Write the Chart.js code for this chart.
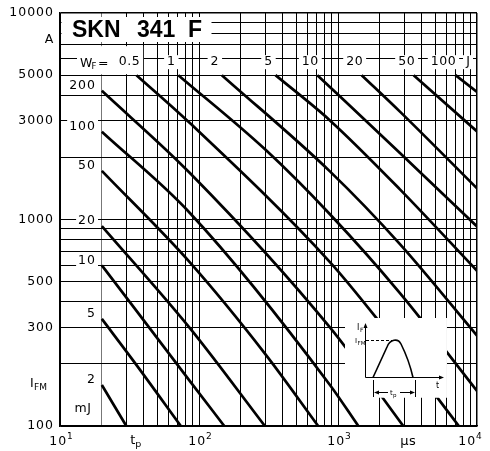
<!DOCTYPE html>
<html>
<head>
<meta charset="utf-8">
<script src="https://cdn.jsdelivr.net/npm/chart.js@4"></script>
<style>
  html, body { margin: 0; padding: 0; background: #fff; }
</style>
</head>
<body>
<canvas id="myChart" width="490" height="451"></canvas>
<script>
// axis ranges and grid positions
const tMin = 10, tMax = 10000;
const iMin = 100, iMax = 10000;
const gridT = [10, 20, 30, 40, 50, 60, 70, 80, 90, 100, 200, 300, 400, 500, 600, 700, 800, 900,
  1000, 2000, 3000, 4000, 5000, 6000, 7000, 8000, 9000, 10000];
const gridI = [100, 200, 300, 400, 500, 600, 700, 800, 900, 1000, 2000, 3000, 4000, 5000,
  6000, 7000, 8000, 9000, 10000];
const yTickLabels = [10000, 5000, 3000, 1000, 500, 300, 100];
const xTickLabels = [10, 100, 1000, 10000];
const xTickExp = ['1', '2', '3', '4'];

// W_F curves, [tp (µs), I_FM (A)]
const w2mJ = [[20, 158], [30, 100]];
const w5mJ = [[20, 330], [35, 200], [74, 100]];
const w10mJ = [[20, 600], [86, 165], [152, 100]];
const w20mJ = [[20, 930], [86, 298], [298, 100]];
const w50mJ = [[20, 1720], [86, 620], [300, 223], [720, 100]];
const w100mJ = [[20, 2660], [86, 1075], [875, 158], [1400, 100]];
const w200mJ = [[20, 4200], [86, 1680], [875, 300], [2950, 100]];
const w05J = [[35.5, 5000], [86, 2930], [875, 622], [1940, 326], [5150, 138], [7400, 100]];
const w1J = [[71, 5000], [300, 2180], [875, 1060], [2790, 440], [10000, 148]];
const w2J = [[146, 5000], [875, 1710], [2790, 760], [10000, 274]];
const w5J = [[355, 5000], [875, 3020], [2790, 1400], [10000, 565]];
const w10J = [[710, 5000], [2790, 2100], [10000, 925]];
const w20J = [[1480, 5000], [2790, 3330], [10000, 1416]];
const w50J = [[3500, 5000], [10000, 2670]];
const w100J = [[7000, 5000], [10000, 4150]];

const mJLines = [w2mJ, w5mJ, w10mJ, w20mJ, w50mJ, w100mJ, w200mJ];
const mJLabels = ['2', '5', '10', '20', '50', '100', '200'];
const jLines = [w05J, w1J, w2J, w5J, w10J, w20J, w50J, w100J];
const jLabels = ['0.5', '1', '2', '5', '10', '20', '50', '100'];

const FONT = '"DejaVu Sans", "Liberation Sans", sans-serif';
const TITLE_FONT = '"Liberation Sans", Arial, sans-serif';

function put(c, s, x, y, size, align, base, spacing, weight, family) {
  c.font = (weight || '') + ' ' + size + 'px ' + (family || FONT);
  c.letterSpacing = spacing || '0px';
  c.textAlign = align || 'left';
  c.textBaseline = base || 'alphabetic';
  c.fillStyle = '#000';
  c.fillText(s, x, y);
}

function widthOf(c, s, size, spacing) {
  c.font = size + 'px ' + FONT;
  c.letterSpacing = spacing || '0px';
  return c.measureText(s).width;
}

function arrow(c, x, y, dir) {
  c.beginPath();
  if (dir === 'up') { c.moveTo(x, y); c.lineTo(x - 2, y + 5); c.lineTo(x + 2, y + 5); }
  if (dir === 'right') { c.moveTo(x, y); c.lineTo(x - 5, y - 2); c.lineTo(x - 5, y + 2); }
  if (dir === 'left') { c.moveTo(x, y); c.lineTo(x + 5, y - 2); c.lineTo(x + 5, y + 2); }
  c.closePath();
  c.fill();
}

// small pulse sketch in the lower right
function drawInset(c, bx, by) {
  c.strokeStyle = '#000';
  c.fillStyle = '#000';
  c.lineWidth = 1;
  c.beginPath();
  c.moveTo(bx + 20.5, by + 9); c.lineTo(bx + 20.5, by + 59.5);
  c.lineTo(bx + 95, by + 59.5);
  c.stroke();
  arrow(c, bx + 20.5, by + 5, 'up');
  arrow(c, bx + 99, by + 59.5, 'right');

  c.setLineDash([3, 2]);
  c.beginPath();
  c.moveTo(bx + 21, by + 22.5); c.lineTo(bx + 48, by + 22.5);
  c.stroke();
  c.setLineDash([]);

  c.lineWidth = 1.6;
  c.beginPath();
  c.moveTo(bx + 28, by + 59.5);
  c.lineTo(bx + 42, by + 29);
  c.bezierCurveTo(bx + 45, by + 21, bx + 53, by + 20, bx + 56, by + 26);
  c.quadraticCurveTo(bx + 64, by + 42, bx + 68, by + 59.5);
  c.stroke();

  c.lineWidth = 1;
  c.beginPath();
  c.moveTo(bx + 28.5, by + 62); c.lineTo(bx + 28.5, by + 79);
  c.moveTo(bx + 70.5, by + 62); c.lineTo(bx + 70.5, by + 79);
  c.moveTo(bx + 31, by + 74.5); c.lineTo(bx + 68, by + 74.5);
  c.stroke();
  arrow(c, bx + 29, by + 74.5, 'left');
  arrow(c, bx + 70, by + 74.5, 'right');
  c.fillStyle = '#fff';
  c.fillRect(bx + 43, by + 70, 12, 9);

  put(c, 'I', bx + 12, by + 12, 8);
  put(c, 'F', bx + 15, by + 14, 6);
  put(c, 'I', bx + 10, by + 25, 7);
  put(c, 'FM', bx + 12.5, by + 27, 5.5);
  put(c, 't', bx + 91, by + 70, 8);
  put(c, 't', bx + 45, by + 77, 7);
  put(c, 'p', bx + 48, by + 79, 5.5);
}

const overlay = {
  id: 'overlay',
  afterDatasetsDraw(chart) {
    const c = chart.ctx;
    const a = chart.chartArea;
    const px = v => chart.scales.x.getPixelForValue(v);
    const py = v => chart.scales.y.getPixelForValue(v);
    c.save();

    // inset box hides grid and curves behind it
    const bx = Math.round(px(1120)), by = Math.round(py(333));
    c.fillStyle = '#fff';
    c.fillRect(bx, by, px(6080) - bx, py(137) - by);
    drawInset(c, bx, by);

    // title
    c.fillStyle = '#fff';
    c.fillRect(a.left + 1.5, a.top + 4, 150, 25);
    put(c, 'SKN', a.left + 12, a.top + 24, 23, 'left', 'alphabetic', '0px', 'bold', TITLE_FONT);
    put(c, '341', a.left + 77, a.top + 24, 23, 'left', 'alphabetic', '0px', 'bold', TITLE_FONT);
    put(c, 'F', a.left + 128, a.top + 24, 23, 'left', 'alphabetic', '0px', 'bold', TITLE_FONT);

    // W_F row along the top
    const rowY = py(5000) - 13;
    jLines.forEach((line, k) => {
      const cx = px(line[0][0]) - (k === jLines.length - 1 ? 12 : 7);
      const w = widthOf(c, jLabels[k], 12.5, '0.5px');
      c.fillStyle = '#fff';
      if (k === 0) c.fillRect(a.left + 17, rowY - 16, cx + w / 2 + 3 - (a.left + 17), 28);
      else c.fillRect(cx - w / 2 - 3, rowY - 7, w + 6, 14);
      put(c, jLabels[k], cx, rowY, 12.5, 'center', 'middle', '0.5px');
    });
    put(c, 'W', a.left + 20, rowY + 4.5, 12.5);
    put(c, 'F', a.left + 31.5, rowY + 7, 8.5);
    put(c, '=', a.left + 38, rowY + 4.5, 12.5);
    const jx = px(tMax) - 9;
    c.fillStyle = '#fff';
    c.fillRect(jx - 5, rowY - 7, 10, 14);
    put(c, 'J', jx, rowY, 12.5, 'center', 'middle');

    // mJ labels at the left
    mJLines.forEach((line, k) => {
      const y = py(line[0][1]) - 5;
      const w = widthOf(c, mJLabels[k], 12.5, '1px');
      c.fillStyle = '#fff';
      c.fillRect(a.left + 36 - w - 2, y - 7, w + 4, 14);
      put(c, mJLabels[k], a.left + 36, y, 12.5, 'right', 'middle', '1px');
    });
    const mjY = py(mJLines[0][0][1]) + 24;
    c.fillStyle = '#fff';
    c.fillRect(a.left + 12, mjY - 7, 22, 14);
    put(c, 'mJ', a.left + 23, mjY, 12.5, 'center', 'middle', '0.5px');

    // y axis labels
    yTickLabels.forEach(v => {
      put(c, String(v), a.left - 6, py(v), 12.5, 'right', 'middle', '1px');
    });
    put(c, 'A', a.left - 11, py(7400), 12.5, 'center', 'middle');
    put(c, 'I', a.left - 30, py(160) + 3, 12.5, 'left');
    put(c, 'FM', a.left - 26, py(160) + 6, 9, 'left');

    // x axis labels
    const baseY = a.bottom + 19;
    xTickLabels.forEach((v, k) => {
      const w10 = widthOf(c, '10', 12.5, '1px');
      const wE = widthOf(c, xTickExp[k], 9, '0px');
      const cx = Math.min(px(v) + 1, a.right - 7);
      const x0 = cx - (w10 + wE) / 2;
      put(c, '10', x0, baseY, 12.5, 'left', 'alphabetic', '1px');
      put(c, xTickExp[k], x0 + w10, baseY - 6, 9, 'left');
    });
    put(c, 't', px(30) + 4, baseY - 1, 13);
    put(c, 'p', px(30) + 9, baseY + 2, 9.5);
    put(c, 'µs', px(3200), baseY, 13, 'center', 'alphabetic', '0.5px');

    c.restore();
  }
};

const ctx = document.getElementById('myChart').getContext('2d');

const allLines = mJLines.concat(jLines);

const chart = new Chart(ctx, {
  type: 'line',
  data: {
    datasets: allLines.map(line => ({
      data: line.map(([t, i]) => ({ x: t, y: i })),
      borderColor: '#000',
      borderWidth: 2.7,
      pointRadius: 0,
      fill: false,
      cubicInterpolationMode: 'monotone'
    }))
  },
  options: {
    responsive: false,
    animation: false,
    events: [],
    layout: { padding: { left: 60, top: 13, right: 13, bottom: 25 } },
    plugins: {
      legend: { display: false },
      tooltip: { enabled: false }
    },
    scales: {
      x: {
        type: 'logarithmic',
        min: tMin,
        max: tMax,
        afterBuildTicks: s => { s.ticks = gridT.map(v => ({ value: v })); },
        afterFit: s => { s.height = 0; },
        ticks: { display: false },
        grid: {
          drawTicks: false,
          color: c => (c.tick && c.tick.value === 20 ? '#777' : '#000'),
          lineWidth: c => (c.tick && c.tick.value === tMax ? 1.5 : 1)
        },
        border: { display: true, color: '#000', width: 1.5 }
      },
      y: {
        type: 'logarithmic',
        min: iMin,
        max: iMax,
        afterBuildTicks: s => { s.ticks = gridI.map(v => ({ value: v })); },
        afterFit: s => { s.width = 0; },
        ticks: { display: false },
        grid: {
          drawTicks: false,
          color: '#000',
          lineWidth: c => (c.tick && c.tick.value === iMax ? 1.5 : 1)
        },
        border: { display: true, color: '#000', width: 1.5 }
      }
    }
  },
  plugins: [overlay]
});
</script>
</body>
</html>
